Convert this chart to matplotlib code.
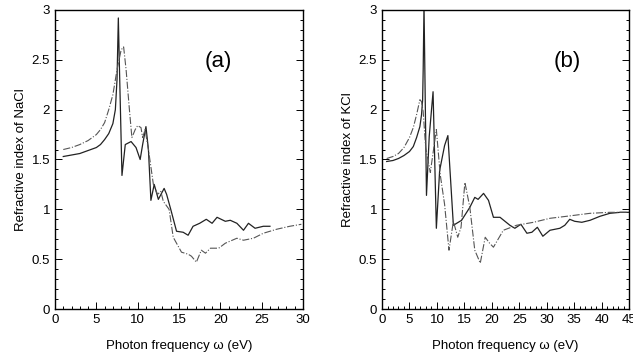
"""Refractive index of NaCl and KCl versus photon frequency."""

import matplotlib

matplotlib.use("Agg")
from matplotlib import pyplot as plt
from matplotlib.ticker import MultipleLocator

plt.rcParams["font.family"] = ["Liberation Sans", "DejaVu Sans"]

# Panel (a): NaCl
nacl_solid_x = [1.0, 2.0, 3.0, 4.0, 5.0, 5.5, 6.0, 6.5, 7.0, 7.3, 7.5, 7.66, 7.8,
                8.1, 8.5, 9.2, 9.8, 10.3, 10.6, 11.0, 11.3, 11.6, 12.0, 12.5,
                13.2, 13.5, 14.0, 14.7, 15.5, 16.1, 16.7, 17.5, 18.3, 19.0, 19.6,
                20.6, 21.2, 22.0, 22.8, 23.4, 24.2, 25.2, 26.0]
nacl_solid_y = [1.53, 1.545, 1.56, 1.59, 1.62, 1.65, 1.70, 1.76, 1.86, 2.0, 2.3,
                2.92, 2.4, 1.34, 1.65, 1.68, 1.62, 1.50, 1.65, 1.83, 1.6, 1.09,
                1.25, 1.10, 1.21, 1.15, 1.0, 0.78, 0.77, 0.74, 0.83, 0.86, 0.90,
                0.86, 0.92, 0.88, 0.89, 0.86, 0.79, 0.86, 0.81, 0.83, 0.83]
nacl_dash_x = [1.0, 2.0, 3.0, 4.0, 5.0, 5.5, 6.0, 6.5, 7.0, 7.5, 8.0, 8.3, 8.6,
               9.0, 9.3, 9.7, 10.0, 10.4, 10.6, 10.9, 11.3, 11.9, 12.4, 12.8,
               13.1, 13.8, 14.3, 15.3, 16.1, 16.5, 17.1, 17.7, 18.2, 18.8, 19.8,
               20.6, 22.0, 22.8, 24.0, 25.2, 26.8, 28.4, 29.8]
nacl_dash_y = [1.60, 1.62, 1.65, 1.69, 1.75, 1.80, 1.87, 2.0, 2.15, 2.4, 2.6,
               2.63, 2.4, 2.0, 1.72, 1.80, 1.84, 1.82, 1.72, 1.80, 1.6, 1.25,
               1.15, 1.18, 1.08, 1.0, 0.72, 0.57, 0.55, 0.53, 0.47, 0.59, 0.56,
               0.61, 0.61, 0.66, 0.71, 0.69, 0.71, 0.76, 0.80, 0.83, 0.85]

# Panel (b): KCl
kcl_solid_x = [0.85, 2.0, 3.0, 4.0, 5.0, 5.7, 6.3, 6.9, 7.2, 7.4, 7.5, 7.65,
               8.1, 8.6, 9.3, 9.9, 10.5, 11.4, 12.0, 13.0, 14.5, 16.0, 16.9,
               17.5, 18.5, 19.4, 20.3, 21.5, 23.3, 24.2, 25.3, 26.4, 27.3, 28.3,
               29.3, 30.6, 32.4, 33.3, 34.2, 35.1, 36.4, 37.9, 39.7, 41.5, 43.4,
               44.9]
kcl_solid_y = [1.48, 1.49, 1.51, 1.54, 1.58, 1.63, 1.72, 1.83, 1.95, 2.1, 2.4,
               3.05, 1.14, 1.73, 2.18, 0.81, 1.39, 1.64, 1.74, 0.84, 0.89, 1.02,
               1.12, 1.10, 1.16, 1.09, 0.92, 0.92, 0.84, 0.81, 0.85, 0.76, 0.77,
               0.82, 0.73, 0.79, 0.81, 0.84, 0.90, 0.88, 0.87, 0.89, 0.93, 0.96,
               0.97, 0.97]
kcl_dash_x = [0.85, 2.0, 3.0, 4.0, 5.0, 5.7, 6.3, 6.9, 7.2, 7.5, 7.95, 8.8,
              9.9, 10.6, 11.4, 12.2, 13.0, 13.8, 14.4, 15.1, 16.0, 16.9, 17.9,
              18.8, 19.6, 20.3, 22.1, 24.5, 27.6, 30.6, 33.6, 37.9, 41.5, 44.9]
kcl_dash_y = [1.51, 1.53, 1.56, 1.62, 1.72, 1.82, 1.95, 2.1, 2.08, 1.98, 1.62,
              1.37, 1.80, 1.35, 1.05, 0.59, 0.88, 0.72, 0.82, 1.27, 1.02, 0.59,
              0.46, 0.72, 0.66, 0.62, 0.79, 0.84, 0.87, 0.91, 0.93, 0.96, 0.97,
              0.97]


def style_axes(ax, xmax, ylabel, tag, tag_x):
    ax.set_xlim(0, xmax)
    ax.set_ylim(0, 3)
    ax.xaxis.set_major_locator(MultipleLocator(5))
    ax.xaxis.set_minor_locator(MultipleLocator(1))
    ax.yaxis.set_minor_locator(MultipleLocator(0.1))
    ax.set_yticks([0, 0.5, 1, 1.5, 2, 2.5, 3],
                  ["0", "0.5", "1", "1.5", "2", "2.5", "3"])
    ax.tick_params(which="both", direction="in", right=True, labelsize=9.5,
                   width=0.7)
    ax.tick_params(which="major", length=5)
    ax.tick_params(which="minor", length=2.5)
    for s in ax.spines.values():
        s.set_linewidth(1.0)
    ax.set_xlabel("Photon frequency \u03c9 (eV)", fontsize=9.5, labelpad=10)
    ax.set_ylabel(ylabel, fontsize=9.5, labelpad=3)
    ax.text(tag_x, 2.48, tag, fontsize=16, ha="center", va="center")


fig = plt.figure(figsize=(6.33, 3.62), dpi=100)
ax1 = fig.add_axes([0.0869, 0.1464, 0.3918, 0.826])
ax2 = fig.add_axes([0.6035, 0.1464, 0.3902, 0.826])

ax1.plot(nacl_solid_x, nacl_solid_y, color="#222222", lw=0.9)
ax1.plot(nacl_dash_x, nacl_dash_y, color="#555555", lw=0.8, linestyle="-.")
style_axes(ax1, 30, "Refractive index of NaCl", "(a)", 19.7)

ax2.plot(kcl_solid_x, kcl_solid_y, color="#222222", lw=0.9)
ax2.plot(kcl_dash_x, kcl_dash_y, color="#555555", lw=0.8, linestyle="-.")
style_axes(ax2, 45, "Refractive index of KCl", "(b)", 33.7)

fig.savefig("out.png", dpi=100)
